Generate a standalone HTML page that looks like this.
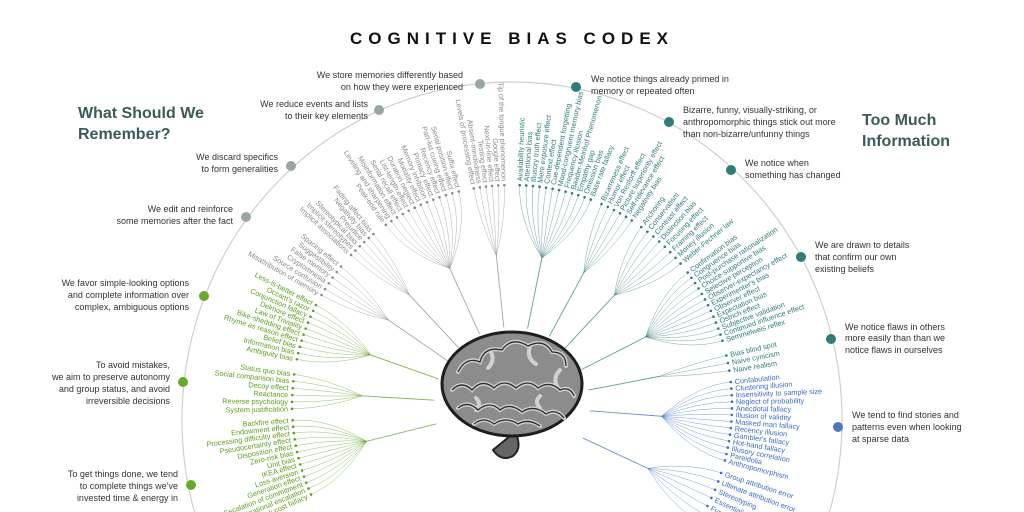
<!DOCTYPE html>
<html><head><meta charset="utf-8">
<style>
html,body{margin:0;padding:0;background:#fff;width:1024px;height:512px;overflow:hidden;}
svg{display:block;font-family:"Liberation Sans",sans-serif;}
</style></head>
<body>
<svg id="s" width="1024" height="512" viewBox="0 0 1024 512" xmlns="http://www.w3.org/2000/svg">
<rect width="1024" height="512" fill="#fff"/>
<text x="512" y="44" text-anchor="middle" font-size="17" font-weight="bold" letter-spacing="6" fill="#111">COGNITIVE BIAS CODEX</text>
<ellipse cx="512" cy="420" rx="330" ry="338" fill="none" stroke="#cfcfcf" stroke-width="1.2"/>
<g font-size="16" font-weight="bold" fill="#3c5a57">
<text x="78" y="118">What Should We</text><text x="78" y="139">Remember?</text>
<text x="862" y="125">Too Much</text><text x="862" y="146">Information</text>
</g>
<g font-size="9" fill="#333">
<circle cx="480" cy="84" r="5" fill="#9aa6a2"/><text x="463" y="78" text-anchor="end">We store memories differently based</text><text x="463" y="90" text-anchor="end">on how they were experienced</text>
<circle cx="379" cy="110" r="5" fill="#9aa6a2"/><text x="368" y="107" text-anchor="end">We reduce events and lists</text><text x="368" y="119" text-anchor="end">to their key elements</text>
<circle cx="291" cy="166" r="5" fill="#9aa6a2"/><text x="278" y="160" text-anchor="end">We discard specifics</text><text x="278" y="172" text-anchor="end">to form generalities</text>
<circle cx="246" cy="217" r="5" fill="#9aa6a2"/><text x="233" y="212" text-anchor="end">We edit and reinforce</text><text x="233" y="224" text-anchor="end">some memories after the fact</text>
<circle cx="204" cy="296" r="5" fill="#6aaa2a"/><text x="189" y="286" text-anchor="end">We favor simple-looking options</text><text x="189" y="298" text-anchor="end">and complete information over</text><text x="189" y="310" text-anchor="end">complex, ambiguous options</text>
<circle cx="183" cy="382" r="5" fill="#6aaa2a"/><text x="170" y="368" text-anchor="end">To avoid mistakes,</text><text x="170" y="380" text-anchor="end">we aim to preserve autonomy</text><text x="170" y="392" text-anchor="end">and group status, and avoid</text><text x="170" y="404" text-anchor="end">irreversible decisions</text>
<circle cx="191" cy="485" r="5" fill="#6aaa2a"/><text x="178" y="477" text-anchor="end">To get things done, we tend</text><text x="178" y="489" text-anchor="end">to complete things we've</text><text x="178" y="501" text-anchor="end">invested time &amp; energy in</text>
<circle cx="576" cy="87" r="5" fill="#2e7d78"/><text x="591" y="82">We notice things already primed in</text><text x="591" y="94">memory or repeated often</text>
<circle cx="669" cy="122" r="5" fill="#2e7d78"/><text x="683" y="113">Bizarre, funny, visually-striking, or</text><text x="683" y="125">anthropomorphic things stick out more</text><text x="683" y="137">than non-bizarre/unfunny things</text>
<circle cx="731" cy="170" r="5" fill="#2e7d78"/><text x="745" y="166">We notice when</text><text x="745" y="178">something has changed</text>
<circle cx="801" cy="257" r="5" fill="#2e7d78"/><text x="815" y="248">We are drawn to details</text><text x="815" y="260">that confirm our own</text><text x="815" y="272">existing beliefs</text>
<circle cx="831" cy="339" r="5" fill="#2e7d78"/><text x="845" y="330">We notice flaws in others</text><text x="845" y="341">more easily than than we</text><text x="845" y="353">notice flaws in ourselves</text>
<circle cx="838" cy="427" r="5" fill="#4a78c0"/><text x="852" y="418">We tend to find stories and</text><text x="852" y="430">patterns even when looking</text><text x="852" y="442">at sparse data</text>
</g>
<g id="tree"></g>
<g id="brain">
<path d="M515 432 q8 16 -2 24 q-12 6 -20 -6 z" fill="#666" stroke="#222" stroke-width="2"/>
<ellipse cx="512" cy="384" rx="70" ry="52" fill="#8c8c8c" stroke="#1e1e1e" stroke-width="3"/>
<path d="M458 372 q8 -16 22 -10 q4 -16 22 -12 q10 -14 26 -4 q16 -8 24 6 q14 0 14 14 M452 390 q10 -10 20 0 q10 -12 22 -2 q10 -10 22 0 q12 -10 22 0 q12 -8 22 2 q10 -4 14 6 M458 408 q10 -8 20 2 q12 -10 22 0 q10 -8 22 2 q12 -8 24 2 q10 -6 18 4 M474 424 q10 -8 20 0 q12 -8 24 0 q10 -6 22 2 M490 350 q6 10 -2 18 M530 346 q-4 12 6 18 M560 370 q-8 8 -2 18 M476 398 q6 6 0 12 M540 396 q-6 6 0 12" fill="none" stroke="#d0d0d0" stroke-width="4" stroke-linecap="round"/>
<path d="M458 372 q8 -16 22 -10 q4 -16 22 -12 q10 -14 26 -4 q16 -8 24 6 q14 0 14 14 M452 390 q10 -10 20 0 q10 -12 22 -2 q10 -10 22 0 q12 -10 22 0 q12 -8 22 2 q10 -4 14 6 M458 408 q10 -8 20 2 q12 -10 22 0 q10 -8 22 2 q12 -8 24 2 q10 -6 18 4 M474 424 q10 -8 20 0 q12 -8 24 0 q10 -6 22 2" fill="none" stroke="#2a2a2a" stroke-width="1.3"/>
</g>
</svg>
<script>
var C=[512,405],R=220,NS="http://www.w3.org/2000/svg";
var groups=[
["#8a8a8a",-100,-92,["Levels of processing effect","Absent-mindedness","Testing effect","Next-in-line effect","Google effect","Tip of the tongue phenomenon"]],
["#8a8a8a",-125,-104,["Peak-end rule","Leveling and sharpening","Misinformation effect","Serial recall effect","List-length effect","Duration neglect","Modality effect","Memory inhibition","Primacy effect","Recency effect","Part-list cueing effect","Serial position effect","Suffix effect"]],
["#8a8a8a",-137,-129,["Implicit associations","Implicit stereotypes","Stereotypical bias","Prejudice","Negativity bias","Fading affect bias"]],
["#8a8a8a",-150,-141,["Misattribution of memory","Source confusion","Cryptomnesia","False memory","Suggestibility","Spacing effect"]],
["#5c9e1e",-168,-153,["Ambiguity bias","Information bias","Belief bias","Rhyme as reason effect","Bike-shedding effect","Law of Triviality","Delmore effect","Conjunction fallacy","Occam's razor","Less-is-better effect"]],
["#5c9e1e",-181,-172,["System justification","Reverse psychology","Reactance","Decoy effect","Social comparison bias","Status quo bias"]],
["#5c9e1e",-204,-184,["Sunk cost fallacy","Irrational escalation","Escalation of commitment","Generation effect","Loss aversion","IKEA effect","Unit bias","Zero-risk bias","Disposition effect","Pseudocertainty effect","Processing difficulty effect","Endowment effect","Backfire effect"]],
["#2e7d78",-88,-69,["Availability heuristic","Attentional bias","Illusory truth effect","Mere exposure effect","Context effect","Cue-dependent forgetting","Mood-congruent memory bias","Frequency illusion","Baader-Meinhof Phenomenon","Empathy gap","Omission bias","Base rate fallacy"]],
["#2e7d78",-66,-57,["Bizarreness effect","Humor effect","Von Restorff effect","Picture superiority effect","Self-relevance effect","Negativity bias"]],
["#2e7d78",-54,-40,["Anchoring","Conservatism","Contrast effect","Distinction bias","Focusing effect","Framing effect","Money illusion","Weber-Fechner law"]],
["#2e7d78",-37,-17,["Confirmation bias","Congruence bias","Post-purchase rationalization","Choice-supportive bias","Selective perception","Observer-expectancy effect","Experimenter's bias","Observer effect","Expectation bias","Ostrich effect","Subjective validation","Continued influence effect","Semmelweis reflex"]],
["#2e7d78",-13,-9,["Bias blind spot","Naive cynicism","Naive realism"]],
["#3b6cc4",-6,14.6,["Confabulation","Clustering illusion","Insensitivity to sample size","Neglect of probability","Anecdotal fallacy","Illusion of validity","Masked man fallacy","Recency illusion","Gambler's fallacy","Hot-hand fallacy","Illusory correlation","Pareidolia","Anthropomorphism"]],
["#3b6cc4",18,32,["Group attribution error","Ultimate attribution error","Stereotyping","Essentialism","Functional fixedness","Moral credential effect","Just-world hypothesis"]]
];
var g=document.getElementById("tree");
function el(n,a){var e=document.createElementNS(NS,n);for(var k in a)e.setAttribute(k,a[k]);g.appendChild(e);return e;}
function P(a,r){var t=a*Math.PI/180;return [C[0]+r*Math.cos(t),C[1]+r*Math.sin(t)];}
groups.forEach(function(G){
 var col=G[0],a0=G[1],a1=G[2],L=G[3],n=L.length,mid=(a0+a1)/2;
 var hub=P(mid,150),br=P(mid,78);
 var c1=P(mid,115);
 el("path",{d:"M"+hub[0]+" "+hub[1]+" Q"+c1[0]+" "+c1[1]+" "+br[0]+" "+br[1],fill:"none",stroke:col,"stroke-width":"0.9",opacity:"0.75"});
 L.forEach(function(s,i){
  var a=n>1?a0+(a1-a0)*i/(n-1):a0;
  var d=P(a,R),q=P(a,185);
  el("path",{d:"M"+d[0]+" "+d[1]+" Q"+q[0]+" "+q[1]+" "+hub[0]+" "+hub[1],fill:"none",stroke:col,"stroke-width":"0.5",opacity:"0.65"});
  el("circle",{cx:d[0],cy:d[1],r:"1.3",fill:col});
  var left=Math.cos(a*Math.PI/180)<0;
  var t=el("text",{transform:"translate("+d[0]+","+d[1]+") rotate("+(left?a+180:a)+")",x:left?-4:4,y:"2.5","text-anchor":left?"end":"start","font-size":"7.3",fill:col});
  t.textContent=s;
 });
});
</script>
</body></html>
